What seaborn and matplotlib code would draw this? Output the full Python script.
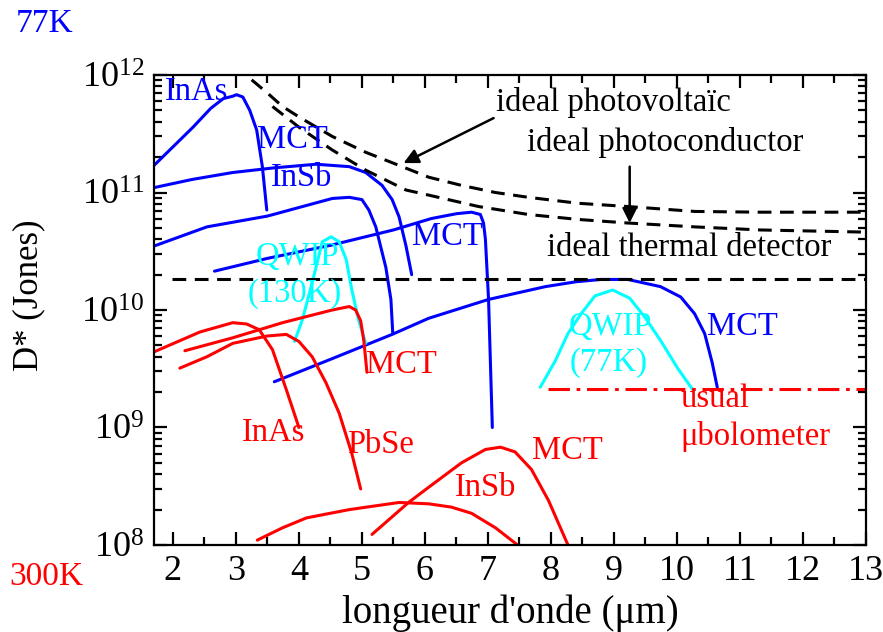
import numpy as np
import pandas as pd
import matplotlib
matplotlib.use("Agg")
import matplotlib.pyplot as plt
import seaborn as sns
from matplotlib.ticker import LogLocator, MultipleLocator, LogFormatterSciNotation, NullFormatter

# ---------------- data (wavelength in um, D* in Jones) ----------------
# 77 K detectors (blue)
inas77_x = [1.7, 2.32, 2.6, 2.8, 2.95, 3.01, 3.11, 3.22, 3.33, 3.42, 3.49]
inas77_y = [1.7e11, 3.6e11, 5.2e11, 6.3e11, 6.6e11, 6.8e11, 6.5e11, 5.0e11, 3.4e11, 1.66e11, 7.1e10]

mctmw77_x = [1.7, 2.3, 2.95, 3.6, 4.27, 4.8, 5.06, 5.32, 5.48, 5.59, 5.7, 5.79]
mctmw77_y = [1.1e11, 1.29e11, 1.48e11, 1.62e11, 1.74e11, 1.66e11, 1.48e11, 1.15e11, 8.7e10, 6.2e10, 3.5e10, 2.0e10]

insb77_x = [1.7, 2.54, 3.5, 4.53, 4.8, 5.0, 5.11, 5.22, 5.38, 5.46, 5.49]
insb77_y = [3.5e10, 5.1e10, 6.3e10, 8.9e10, 9.1e10, 8.7e10, 7.1e10, 5.1e10, 2.3e10, 1.23e10, 6.3e9]

mct7_77_x = [2.66, 3.5, 4.5, 5.5, 6.1, 6.5, 6.74, 6.88, 6.93, 6.96, 7.01, 7.07]
mct7_77_y = [2.14e10, 2.75e10, 3.55e10, 4.8e10, 6.0e10, 6.6e10, 6.8e10, 6.5e10, 5.5e10, 4.0e10, 1.23e10, 1.0e9]

mctlw77_x = [3.61, 4.5, 5.48, 6.06, 7.01, 7.91, 8.4, 8.8, 9.22, 9.74, 10.06, 10.28, 10.44, 10.56, 10.64]
mctlw77_y = [2.45e9, 3.8e9, 6.2e9, 8.5e9, 1.23e10, 1.58e10, 1.74e10, 1.82e10, 1.82e10, 1.58e10, 1.29e10, 9.3e9, 6.3e9, 3.55e9, 2.2e9]

# QWIPs (cyan)
qwip130_x = [3.93, 4.05, 4.21, 4.37, 4.51, 4.64, 4.75, 4.84, 4.95, 5.06]
qwip130_y = [5.4e9, 8.1e9, 1.7e10, 3.8e10, 4.2e10, 3.8e10, 2.7e10, 1.48e10, 8.1e9, 5.2e9]

qwip77_x = [7.83, 8.07, 8.27, 8.48, 8.7, 8.98, 9.25, 9.49, 9.74, 10.01, 10.25]
qwip77_y = [2.2e9, 3.7e9, 6.3e9, 9.3e9, 1.32e10, 1.48e10, 1.26e10, 8.7e9, 5.5e9, 3.2e9, 2.1e9]

# 300 K detectors (red)
inas300_x = [1.7, 2.43, 2.95, 3.17, 3.37, 3.58, 3.8, 4.0]
inas300_y = [4.4e9, 6.5e9, 7.8e9, 7.6e9, 6.8e9, 4.6e9, 2.1e9, 1.0e9]

mctmw300_x = [2.19, 2.95, 3.74, 4.53, 4.8, 4.9, 4.98, 5.03, 5.08]
mctmw300_y = [4.5e9, 5.8e9, 7.8e9, 1.0e10, 1.07e10, 1.0e10, 8.1e9, 5.5e9, 2.95e9]

pbse300_x = [2.11, 2.54, 2.95, 3.49, 3.8, 4.0, 4.21, 4.43, 4.64, 4.84, 4.98]
pbse300_y = [3.2e9, 4.0e9, 5.2e9, 6.0e9, 6.2e9, 5.4e9, 4.0e9, 2.4e9, 1.32e9, 6.0e8, 3.0e8]

insb300_x = [3.34, 3.74, 4.12, 4.8, 5.59, 6.06, 6.42, 6.74, 7.12, 7.47]
insb300_y = [1.1e8, 1.4e8, 1.7e8, 2.0e8, 2.3e8, 2.24e8, 2.1e8, 1.86e8, 1.4e8, 1.0e8]

mctlw300_x = [5.16, 5.74, 6.06, 6.58, 6.96, 7.2, 7.43, 7.69, 7.96, 8.27]
mctlw300_y = [1.23e8, 2.3e8, 3.1e8, 5.0e8, 6.5e8, 6.8e8, 6.2e8, 4.4e8, 2.4e8, 1.0e8]

# ideal limits (black dashed) and bolometer (red dash-dot)
ideal_pv_x = [3.25, 3.49, 3.74, 4.0, 4.53, 5.06, 5.59, 6.06, 6.58, 7.12, 7.64, 8.43, 9.22, 10.28, 11.32, 13.0]
ideal_pv_y = [9.1e11, 7.1e11, 5.4e11, 4.4e11, 3.0e11, 2.2e11, 1.7e11, 1.35e11, 1.15e11, 1.0e11, 9.1e10, 8.1e10, 7.6e10, 6.9e10, 6.8e10, 6.8e10]

ideal_pc_x = [3.58, 4.0, 4.53, 5.06, 5.7, 6.06, 6.85, 7.64, 8.43, 9.22, 10.28, 11.32, 13.0]
ideal_pc_y = [5.4e11, 3.6e11, 2.3e11, 1.55e11, 1.05e11, 9.5e10, 7.6e10, 6.5e10, 5.9e10, 5.5e10, 5.1e10, 4.8e10, 4.6e10]

ideal_th_x = [1.98, 13.0]
ideal_th_y = [1.84e10, 1.84e10]

bolo_x = [7.96, 13.0]
bolo_y = [2.14e9, 2.14e9]

x_ticks = [2, 3, 4, 5, 6, 7, 8, 9, 10, 11, 12, 13]

# ---------------- style ----------------
sns.set_style("ticks")
FONT = ["Liberation Serif", "DejaVu Serif"]
plt.rcParams["font.family"] = FONT
plt.rcParams["mathtext.fontset"] = "custom"
plt.rcParams["mathtext.rm"] = "Liberation Serif"
plt.rcParams["mathtext.it"] = "Liberation Serif:italic"
plt.rcParams["text.color"] = "black"
plt.rcParams["axes.labelcolor"] = "black"

BLUE = "#0000ff"
RED = "#ff0000"
CYAN = "#00ffff"
BLACK = "#000000"

fig = plt.figure(figsize=(8.83, 6.32), dpi=100)
ax = fig.add_axes([0.1744, 0.1377, 0.8063, 0.7436])

LW = 2.2
DASH = (0, (4.5, 2.8))
series = [
    (inas77_x, inas77_y, BLUE, "-"),
    (mctmw77_x, mctmw77_y, BLUE, "-"),
    (insb77_x, insb77_y, BLUE, "-"),
    (mct7_77_x, mct7_77_y, BLUE, "-"),
    (mctlw77_x, mctlw77_y, BLUE, "-"),
    (qwip130_x, qwip130_y, CYAN, "-"),
    (qwip77_x, qwip77_y, CYAN, "-"),
    (inas300_x, inas300_y, RED, "-"),
    (mctmw300_x, mctmw300_y, RED, "-"),
    (pbse300_x, pbse300_y, RED, "-"),
    (insb300_x, insb300_y, RED, "-"),
    (mctlw300_x, mctlw300_y, RED, "-"),
    (ideal_pv_x, ideal_pv_y, BLACK, DASH),
    (ideal_pc_x, ideal_pc_y, BLACK, DASH),
    (ideal_th_x, ideal_th_y, BLACK, DASH),
    (bolo_x, bolo_y, RED, (0, (7, 2.2, 1.2, 2.2))),
]
for xs, ys, col, ls in series:
    df = pd.DataFrame({"x": xs, "y": ys})
    sns.lineplot(data=df, x="x", y="y", ax=ax, color=col, lw=LW, sort=False,
                 estimator=None, linestyle=ls)

ax.set_yscale("log")
ax.set_xlim(1.7, 13)
ax.set_ylim(1e8, 1e12)

ax.set_xticks(x_ticks)
ax.xaxis.set_minor_locator(MultipleLocator(0.5))
ax.yaxis.set_major_locator(LogLocator(base=10, numticks=10))
ax.yaxis.set_minor_locator(LogLocator(base=10, subs=np.arange(2, 10), numticks=20))
ax.yaxis.set_major_formatter(LogFormatterSciNotation())
ax.yaxis.set_minor_formatter(NullFormatter())

ax.tick_params(which="both", direction="in", top=True, right=True,
               colors=BLACK, width=1.6)
ax.tick_params(which="major", length=9.5, labelsize=26, pad=7)
ax.tick_params(which="minor", length=5.5)
for lab in ax.get_xticklabels() + ax.get_yticklabels():
    lab.set_fontfamily(FONT)
for s in ax.spines.values():
    s.set_linewidth(1.6)
    s.set_color(BLACK)

ax.set_xlabel("longueur d'onde (\u03bcm)", fontsize=28, color=BLACK)
ax.set_ylabel("D* (Jones)", fontsize=25, color=BLACK)
ax.xaxis.set_label_coords(0.501, -0.105)
ax.yaxis.set_label_coords(-0.153, 0.532)

# ---------------- labels ----------------
TS = 23.5
def lab(x, y, s, c, ha="center", **kw):
    ax.text(x, y, s, color=c, fontsize=TS, ha=ha, va="center", **kw)

lab(2.38, 7.2e11, "InAs", BLUE)
lab(3.90, 2.8e11, "MCT", BLUE)
lab(4.04, 1.33e11, "InSb", BLUE)
lab(6.36, 4.2e10, "MCT", BLUE)
lab(3.97, 2.83e10, "QWIP", CYAN)
lab(3.93, 1.37e10, "(130K)", CYAN)
lab(8.95, 7.2e9, "QWIP", CYAN)
lab(8.92, 3.54e9, "(77K)", CYAN)
lab(11.04, 7.2e9, "MCT", BLUE)
lab(5.63, 3.4e9, "MCT", RED)
lab(3.60, 9.0e8, "InAs", RED)
lab(5.29, 7.1e8, "PbSe", RED)
lab(8.26, 6.4e8, "MCT", RED)
lab(6.96, 3.06e8, "InSb", RED)
lab(10.06, 1.75e9, "usual", RED, ha="left")
lab(10.06, 8.3e8, "\u03bcbolometer", RED, ha="left")

lab(9.0, 5.8e11, "ideal photovoltaïc", BLACK)
lab(9.82, 2.64e11, "ideal photoconductor", BLACK)
lab(10.2, 3.37e10, "ideal thermal detector", BLACK)

ax.annotate("", xy=(5.66, 1.78e11), xytext=(7.09, 4.3e11),
            arrowprops=dict(arrowstyle="-|>", color=BLACK, lw=1.8,
                            mutation_scale=22, shrinkA=0, shrinkB=0))
ax.annotate("", xy=(9.25, 5.5e10), xytext=(9.25, 1.66e11),
            arrowprops=dict(arrowstyle="-|>", color=BLACK, lw=1.8,
                            mutation_scale=22, shrinkA=0, shrinkB=0))

fig.text(45 / 883, 1 - 24 / 632, "77K", color=BLUE, fontsize=24, ha="center", va="center")
fig.text(46 / 883, 1 - 577 / 632, "300K", color=RED, fontsize=24, ha="center", va="center")

fig.savefig("out.png", dpi=100)
